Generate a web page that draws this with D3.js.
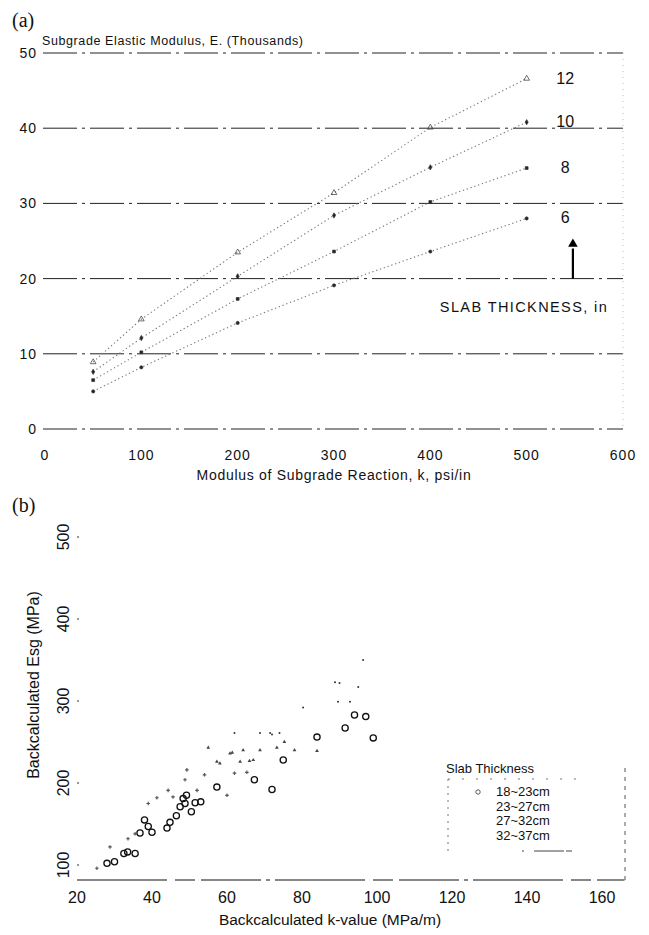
<!DOCTYPE html>
<html>
<head>
<meta charset="utf-8">
<script src="https://cdn.jsdelivr.net/npm/d3@7"></script>
<style>
  body { margin: 0; background: #fff; }
  svg text { font-family: 'Liberation Sans', Arial, sans-serif; fill: #111; }
</style>
</head>
<body>
<div id="chart"></div>
<script>
// ---- panel (a) data ----
const kValues = [50, 100, 200, 300, 400, 500];
const slabLabels = ['6', '8', '10', '12'];
const eSlab6 = [5.0, 8.2, 14.1, 19.1, 23.6, 28.0];
const eSlab8 = [6.5, 10.2, 17.3, 23.6, 30.2, 34.7];
const eSlab10 = [7.6, 12.1, 20.3, 28.4, 34.8, 40.8];
const eSlab12 = [8.9, 14.6, 23.5, 31.4, 40.1, 46.6];
const aYTicks = [0, 10, 20, 30, 40, 50];
const aXTicks = [0, 100, 200, 300, 400, 500, 600];

// ---- panel (b) data ----
const bXTicks = [20, 40, 60, 80, 100, 120, 140, 160];
const bYTicks = [100, 200, 300, 400, 500];
const legendLabels = ['18~23cm', '23~27cm', '27~32cm', '32~37cm'];
const kThin = [28, 30, 32.5, 33.5, 35.5, 36.8, 38, 39, 40, 44, 44.8, 46.5, 47.5, 48.3, 49.2, 48.8, 50.5, 51.5, 53, 57.3, 67.3, 72, 75, 84, 91.5, 94, 97, 99];
const eThin = [102, 104, 114, 116, 114, 139, 155, 147, 140, 145, 152, 160, 171, 181, 185, 175, 165, 176, 177, 195, 204, 192, 228, 256, 267, 283, 281, 255];
const kMid = [25.3, 28.8, 33.6, 35.5, 39, 41.3, 44.3, 45.6, 48.8, 52, 54, 60, 49.3, 62, 65.3];
const eMid = [96, 122, 132, 138, 175, 182, 191, 183, 204, 191, 210, 185, 216, 212, 213];
const kThick = [55, 57.3, 58.1, 60.8, 61.4, 63.5, 64.3, 66, 67, 68.8, 73.3, 75.3, 78, 84];
const eThick = [243, 226, 224, 236, 237, 226, 240, 227, 228, 240, 243, 250, 240, 239];
const kThickest = [62, 68.8, 71.5, 72, 74, 80.3, 88.8, 90, 95, 89.6, 92.8, 96.3];
const eThickest = [261, 261, 261, 259, 261, 292, 323, 322, 317, 299, 299, 350];

const W = 649, H = 935;
const svg = d3.select('#chart').append('svg')
  .attr('width', W).attr('height', H)
  .attr('viewBox', '0 0 ' + W + ' ' + H);

// ================= panel (a) =================
const xA = d3.scaleLinear().domain([0, 600]).range([45, 623]);
const yA = d3.scaleLinear().domain([0, 50]).range([429, 53]);
const a = svg.append('g');

a.append('text').attr('x', 12).attr('y', 27)
  .style('font-family', "'Liberation Serif', 'DejaVu Serif', serif")
  .style('font-size', '20px').text('(a)');
a.append('text').attr('x', 42).attr('y', 45)
  .style('font-size', '12.5px').style('letter-spacing', '0.6px')
  .text('Subgrade Elastic Modulus, E. (Thousands)');

// horizontal dash-dot grid
a.selectAll('.grid').data(aYTicks).enter().append('line')
  .attr('x1', xA(0) - 2).attr('x2', xA(600))
  .attr('y1', d => yA(d)).attr('y2', d => yA(d))
  .attr('stroke', '#222').attr('stroke-width', 1)
  .attr('stroke-dasharray', '34,5,3,5');
a.append('line')
  .attr('x1', xA(600)).attr('x2', xA(600)).attr('y1', yA(50)).attr('y2', yA(0))
  .attr('stroke', '#bbb').attr('stroke-dasharray', '1,5');

a.selectAll('.ylab').data(aYTicks).enter().append('text')
  .attr('x', 37).attr('y', d => yA(d) + 5)
  .attr('text-anchor', 'end').style('font-size', '14px').style('letter-spacing', '1px')
  .text(d => d);
a.selectAll('.xlab').data(aXTicks).enter().append('text')
  .attr('x', d => xA(d)).attr('y', 460)
  .attr('text-anchor', 'middle').style('font-size', '14px').style('letter-spacing', '1px')
  .text(d => d);
a.append('text').attr('x', 334).attr('y', 480).attr('text-anchor', 'middle')
  .style('font-size', '14px').style('letter-spacing', '0.7px')
  .text('Modulus of Subgrade Reaction, k, psi/in');

const aSeries = [eSlab6, eSlab8, eSlab10, eSlab12];
const aSymbols = [d3.symbolCircle, d3.symbolSquare, d3.symbolDiamond, d3.symbolTriangle];
const line = d3.line().x((d, i) => xA(kValues[i])).y(d => yA(d));
aSeries.forEach(function (vals, s) {
  a.append('path').datum(vals)
    .attr('d', line)
    .attr('fill', 'none').attr('stroke', '#777')
    .attr('stroke-width', 1.1).attr('stroke-dasharray', '1.3,2.7');
  a.selectAll('.m' + s).data(vals).enter().append('path')
    .attr('transform', (d, i) => 'translate(' + xA(kValues[i]) + ',' + yA(d) + ')')
    .attr('d', d3.symbol().type(aSymbols[s]).size(s === 3 ? 14 : 8))
    .attr('fill', s === 3 ? 'none' : '#222').attr('stroke', '#333').attr('stroke-width', 0.7);
  a.append('text')
    .attr('x', xA(540)).attr('y', yA(vals[vals.length - 1]) + 5)
    .attr('text-anchor', 'middle').style('font-size', '16px')
    .text(slabLabels[s]);
});

// arrow + slab thickness label
a.append('line')
  .attr('x1', xA(548)).attr('x2', xA(548))
  .attr('y1', yA(20)).attr('y2', yA(24))
  .attr('stroke', '#000').attr('stroke-width', 2.2);
a.append('path')
  .attr('d', d3.symbol().type(d3.symbolTriangle).size(40))
  .attr('transform', 'translate(' + xA(548) + ',' + (yA(24.6)) + ')')
  .attr('fill', '#000');
a.append('text').attr('x', 524).attr('y', 312).attr('text-anchor', 'middle')
  .style('font-size', '14.5px').style('letter-spacing', '1.4px')
  .text('SLAB THICKNESS, in');

// ================= panel (b) =================
const xB = d3.scaleLinear().domain([20, 160]).range([77, 602]);
const yB = d3.scaleLinear().domain([100, 500]).range([865, 537]);
const b = svg.append('g');

b.append('text').attr('x', 12).attr('y', 512)
  .style('font-family', "'Liberation Serif', 'DejaVu Serif', serif")
  .style('font-size', '20px').text('(b)');

// x axis line
b.append('line').attr('x1', xB(20)).attr('x2', xB(166))
  .attr('y1', 880).attr('y2', 880)
  .attr('stroke', '#111').attr('stroke-width', 1.1)
  .attr('stroke-dasharray', '90,8,20,6,60,5,4,5');
// y tick marks
b.selectAll('.ytick').data(bYTicks).enter().append('line')
  .attr('x1', xB(20)).attr('x2', xB(20) + 2)
  .attr('y1', d => yB(d)).attr('y2', d => yB(d))
  .attr('stroke', '#333');
b.selectAll('.ylab').data(bYTicks).enter().append('text')
  .attr('transform', d => 'translate(' + 69 + ',' + yB(d) + ') rotate(-90)')
  .attr('text-anchor', 'middle').style('font-size', '16px')
  .text(d => d);
b.selectAll('.xlab').data(bXTicks).enter().append('text')
  .attr('x', d => xB(d)).attr('y', 903)
  .attr('text-anchor', 'middle').style('font-size', '16px')
  .text(d => d);
b.append('text').attr('x', 330).attr('y', 925).attr('text-anchor', 'middle')
  .style('font-size', '15.5px').text('Backcalculated k-value (MPa/m)');
b.append('text')
  .attr('transform', 'translate(' + 39 + ',' + 685 + ') rotate(-90)')
  .attr('text-anchor', 'middle').style('font-size', '16px')
  .text('Backcalculated Esg (MPa)');

// scatter
function drawSeries(ks, es, draw) {
  const sel = b.append('g').selectAll('path').data(ks).enter();
  draw(sel, es);
}
drawSeries(kThin, eThin, function (sel, es) {
  sel.append('circle')
    .attr('cx', d => xB(d)).attr('cy', (d, i) => yB(es[i])).attr('r', 3.1)
    .attr('fill', 'none').attr('stroke', '#111').attr('stroke-width', 1.3);
});
drawSeries(kMid, eMid, function (sel, es) {
  sel.append('path')
    .attr('transform', (d, i) => 'translate(' + xB(d) + ',' + yB(es[i]) + ')')
    .attr('d', d3.symbol().type(d3.symbolCross).size(7))
    .attr('fill', '#555');
});
drawSeries(kThick, eThick, function (sel, es) {
  sel.append('path')
    .attr('transform', (d, i) => 'translate(' + xB(d) + ',' + yB(es[i]) + ')')
    .attr('d', d3.symbol().type(d3.symbolTriangle).size(6))
    .attr('fill', '#444');
});
drawSeries(kThickest, eThickest, function (sel, es) {
  sel.append('circle')
    .attr('cx', d => xB(d)).attr('cy', (d, i) => yB(es[i])).attr('r', 1)
    .attr('fill', '#333');
});

// legend
const lg = b.append('g');
lg.append('text').attr('x', 446).attr('y', 773).style('font-size', '13px').text('Slab Thickness');
lg.append('line').attr('x1', 448).attr('x2', 582).attr('y1', 779).attr('y2', 779)
  .attr('stroke', '#777').attr('stroke-dasharray', '2,12');
lg.append('line').attr('x1', 448).attr('x2', 448).attr('y1', 779).attr('y2', 852)
  .attr('stroke', '#777').attr('stroke-dasharray', '2,5');
lg.append('line').attr('x1', 625).attr('x2', 625).attr('y1', 768).attr('y2', 880)
  .attr('stroke', '#555').attr('stroke-dasharray', '4,5');
lg.append('line').attr('x1', 522).attr('x2', 572).attr('y1', 851).attr('y2', 851)
  .attr('stroke', '#444').attr('stroke-dasharray', '2,10,30');
lg.selectAll('.lt').data(legendLabels).enter().append('text')
  .attr('x', 496).attr('y', (d, i) => 796 + i * 14.5)
  .style('font-size', '13px').text(d => d);
lg.append('circle').attr('cx', 478).attr('cy', 792).attr('r', 2.2)
  .attr('fill', 'none').attr('stroke', '#333').attr('stroke-width', 0.8);
</script>
</body>
</html>
